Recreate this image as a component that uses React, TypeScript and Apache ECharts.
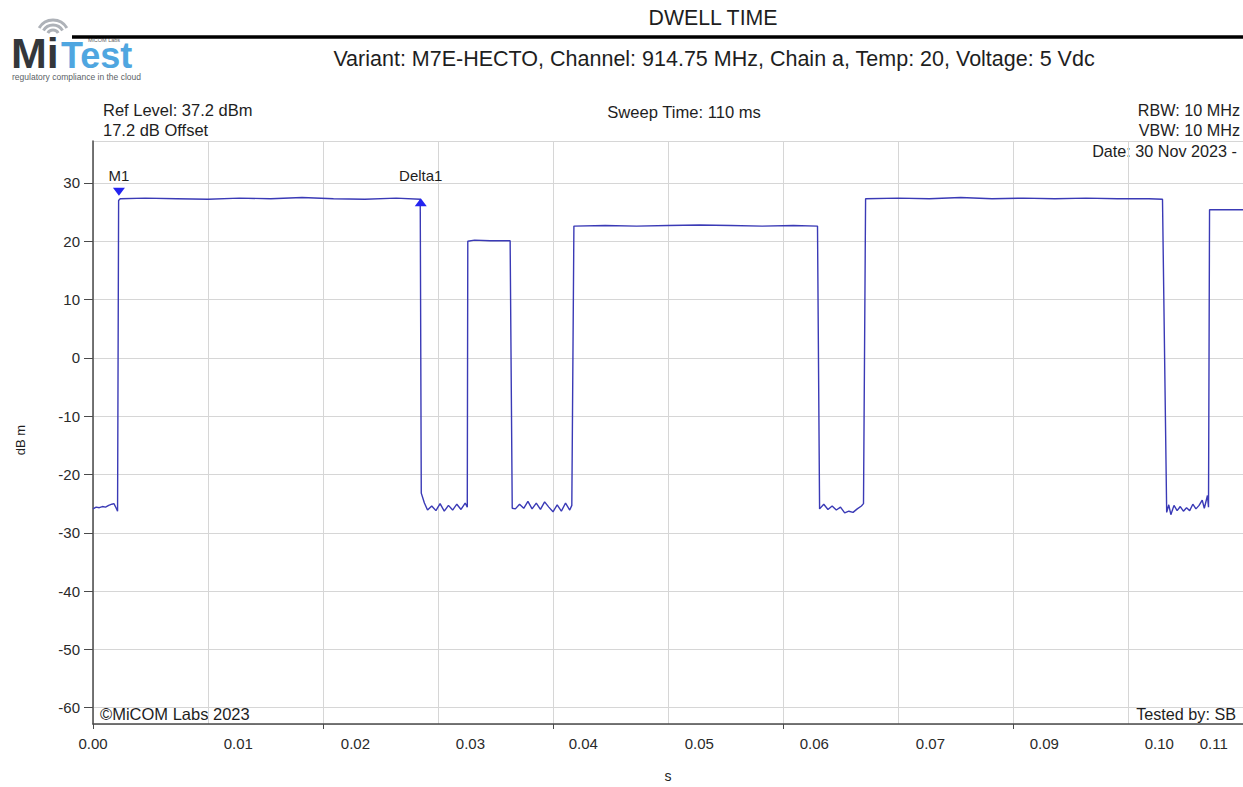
import React, { useEffect, useRef } from "react";
import * as echarts from "echarts";

// Sweep trace: time (s) and level (dBm), read along the captured zero-span sweep
const traceTime: number[] = [
  // off period
  0.0, 0.0003, 0.0006, 0.0009, 0.0012, 0.0015, 0.0018, 0.002, 0.0022, 0.00235,
  // burst 1
  0.00245, 0.0026, 0.005, 0.008, 0.011, 0.014, 0.017, 0.02, 0.023, 0.026, 0.029, 0.0313,
  // off period
  0.0314, 0.0317, 0.032, 0.0324, 0.0328, 0.0332, 0.0336, 0.034, 0.0344, 0.0348, 0.0352, 0.0356, 0.0358,
  // burst 2
  0.03585, 0.0365, 0.038, 0.0399,
  // off period
  0.0401, 0.0404, 0.0408, 0.0412, 0.0416, 0.042, 0.0424, 0.0428, 0.0432, 0.0436, 0.044, 0.0444, 0.0448,
  0.0452, 0.0456, 0.0458,
  // burst 3
  0.046, 0.049, 0.052, 0.055, 0.058, 0.061, 0.064, 0.067, 0.0693,
  // off period
  0.0695, 0.0699, 0.0703, 0.0707, 0.0711, 0.0715, 0.0719, 0.0723, 0.0727, 0.0731, 0.0735, 0.0737,
  // burst 4
  0.0739, 0.077, 0.08, 0.083, 0.086, 0.089, 0.092, 0.095, 0.098, 0.101, 0.1023,
  // off period
  0.1027, 0.1029, 0.1031, 0.1034, 0.1037, 0.104, 0.1043, 0.1046, 0.1049, 0.1052, 0.1055, 0.1058, 0.1061,
  0.1063, 0.1066, 0.1067,
  // burst 5
  0.1068, 0.108, 0.11,
];

const traceLevel: number[] = [
  -25.9, -25.6, -25.7, -25.5, -25.6, -25.3, -25.1, -25.0, -25.7, -26.3,
  27.0, 27.3, 27.4, 27.3, 27.2, 27.4, 27.3, 27.5, 27.3, 27.2, 27.4, 27.2,
  -23.2, -24.9, -26.1, -25.4, -26.2, -25.0, -26.3, -25.3, -26.1, -25.1, -26.0, -24.9, -25.6,
  20.0, 20.2, 20.1, 20.1,
  -25.8, -25.9, -25.1, -25.8, -24.6, -25.9, -24.9, -26.0, -24.7, -25.6, -26.4, -25.2, -26.3,
  -24.9, -26.1, -25.3,
  22.6, 22.7, 22.6, 22.7, 22.8, 22.7, 22.6, 22.7, 22.6,
  -25.9, -25.1, -26.0, -25.4, -26.1, -25.6, -26.6, -26.3, -26.5, -25.9, -25.4, -25.0,
  27.3, 27.4, 27.3, 27.5, 27.3, 27.4, 27.3, 27.4, 27.3, 27.3, 27.2,
  -26.5, -25.2, -26.9, -25.3, -26.2, -25.5, -26.3, -25.7, -26.2, -25.1, -25.9, -25.3, -24.4,
  -25.8, -23.6, -25.6,
  25.4, 25.4, 25.4,
];

// Markers: M1 at the start of the first burst, Delta1 at its end
const markerNames: string[] = ["M1", "Delta1"];
const markerTime: number[] = [0.00248, 0.03135];
const markerLevel: number[] = [27.3, 27.2];

// Axis scale (ref level 37.2 dBm, 10 dB/div, 110 ms sweep)
const refLevel = 37.2;
const dbSpan = 100;
const sweepTime = 0.11;
const yTickValues: number[] = [-60, -50, -40, -30, -20, -10, 0, 10, 20, 30];
const xMajorTicks: number[] = [0, 0.022, 0.044, 0.066, 0.088, 0.11];
const xLabelPos: number[] = [0, 0.0139, 0.0251, 0.0361, 0.0469, 0.058, 0.069, 0.0801, 0.091, 0.102, 0.1072];
const xLabelText: string[] = ["0.00", "0.01", "0.02", "0.03", "0.04", "0.05", "0.06", "0.07", "0.09", "0.10", "0.11"];

const FONT = "'Liberation Sans', Arial, sans-serif";
const TRACE = "#3a3ab6";
const MARK = "#2424f0";
const GRID = "#d6d6d6";
const AXIS = "#4a4a4a";
const INK = "#1e1e1e";

function txt(
  text: string,
  x: number,
  y: number,
  size: number,
  align = "left",
  color = INK,
  weight = "normal",
  lineHeight?: number
) {
  return {
    type: "text",
    x,
    y,
    silent: true,
    style: {
      text,
      fill: color,
      font: `${weight} ${size}px ${FONT}`,
      textAlign: align,
      textVerticalAlign: "middle",
      ...(lineHeight ? { lineHeight } : {}),
    },
  };
}

export default function App() {
  const ref = useRef<HTMLDivElement>(null);

  useEffect(() => {
    if (!ref.current) return;
    const chart = echarts.init(ref.current, null, { renderer: "svg" });

    const points = traceTime.map((t, i) => [t, traceLevel[i]]);

    const logoArcs = [6, 11, 16].map((r) => ({
      type: "arc",
      silent: true,
      shape: { cx: 53, cy: 36, r, startAngle: (-150 * Math.PI) / 180, endAngle: (-30 * Math.PI) / 180, clockwise: true },
      style: { stroke: "#aeb2b8", lineWidth: 3, fill: null },
    }));

    chart.setOption({
      animation: false,
      backgroundColor: "#ffffff",
      textStyle: { fontFamily: FONT },
      grid: { left: 93, top: 141, width: 1151, height: 583, containLabel: false },
      xAxis: [
        {
          type: "value",
          position: "bottom",
          min: 0,
          max: sweepTime,
          interval: 0.011,
          axisLine: { show: true, onZero: false, lineStyle: { color: AXIS, width: 1.5 } },
          axisTick: { show: false },
          axisLabel: { show: false },
          splitLine: { show: true, lineStyle: { color: GRID, width: 1 } },
        },
        {
          type: "value",
          position: "bottom",
          min: 0,
          max: sweepTime,
          axisLine: { show: false, onZero: false },
          axisTick: { show: true, customValues: xMajorTicks, length: 5, lineStyle: { color: AXIS } },
          axisLabel: {
            show: true,
            customValues: xLabelPos,
            margin: 12,
            fontSize: 15,
            color: "#2a2a2a",
            formatter: (v: number) => {
              const i = xLabelPos.findIndex((p) => Math.abs(p - v) < 1e-6);
              return i >= 0 ? xLabelText[i] : "";
            },
          },
          splitLine: { show: false },
        },
      ],
      yAxis: [
        {
          type: "value",
          position: "left",
          min: refLevel - dbSpan,
          max: refLevel,
          splitNumber: 10,
          minInterval: 10,
          maxInterval: 10,
          axisLine: { show: true, onZero: false, lineStyle: { color: AXIS, width: 1.5 } },
          axisTick: { show: false },
          axisLabel: { show: false },
          splitLine: { show: true, lineStyle: { color: GRID, width: 1 } },
        },
        {
          type: "value",
          position: "left",
          min: refLevel - dbSpan,
          max: refLevel,
          axisLine: { show: false, onZero: false },
          axisTick: { show: true, customValues: yTickValues, length: 9, lineStyle: { color: AXIS } },
          axisLabel: { show: true, customValues: yTickValues, margin: 13, fontSize: 15, color: "#2a2a2a" },
          splitLine: { show: false },
        },
      ],
      series: [
        {
          type: "line",
          xAxisIndex: 0,
          yAxisIndex: 0,
          data: points,
          showSymbol: false,
          symbol: "none",
          lineStyle: { color: TRACE, width: 1.4 },
          markPoint: {
            silent: true,
            data: [
              {
                name: markerNames[0],
                coord: [markerTime[0], markerLevel[0]],
                symbol: "path://M0,0 L12,0 L6,8 Z",
                symbolSize: [12, 8],
                symbolOffset: [0, -7],
                itemStyle: { color: MARK },
                label: { show: true, position: "top", distance: 5, formatter: markerNames[0], color: INK, fontSize: 15 },
              },
              {
                name: markerNames[1],
                coord: [markerTime[1], markerLevel[1]],
                symbol: "path://M6,0 L12,8 L0,8 Z",
                symbolSize: [12, 8],
                symbolOffset: [0, 3],
                itemStyle: { color: MARK },
                label: { show: true, position: "top", distance: 15, formatter: markerNames[1], color: INK, fontSize: 15 },
              },
            ],
          },
        },
      ],
      graphic: [
        // logo
        ...logoArcs,
        txt("Mi", 11, 53, 43, "left", "#34373b", "bold", 31),
        txt("Test", 61, 55, 36, "left", "#4fa6e0", "bold", 26),
        txt("MiCOM Labs", 88, 40, 5.5, "left", "#666", "normal", 5),
        txt("regulatory compliance in the cloud", 12, 77, 8.5, "left", "#5b5f66", "normal", 8),
        // header
        txt("DWELL TIME", 713, 18, 21.3, "center"),
        {
          type: "line",
          silent: true,
          shape: { x1: 72, y1: 37, x2: 1243, y2: 37 },
          style: { stroke: "#000", lineWidth: 3.5 },
        },
        txt("Variant: M7E-HECTO, Channel: 914.75 MHz, Chain a, Temp: 20, Voltage: 5 Vdc", 714, 59, 21.5, "center"),
        // instrument settings
        txt("Ref Level: 37.2 dBm", 103, 110, 16.5),
        txt("17.2 dB Offset", 103, 130, 16.5),
        txt("Sweep Time: 110 ms", 684, 112, 16.6, "center"),
        txt("RBW: 10 MHz", 1240, 110, 16.2, "right"),
        txt("VBW: 10 MHz", 1240, 130, 16.2, "right"),
        txt("Date: 30 Nov 2023 -", 1237, 151, 16.2, "right"),
        txt("\u00A9MiCOM Labs 2023", 100, 714, 16.5),
        txt("Tested by: SB", 1236, 714, 16.2, "right"),
        // axis names
        {
          type: "text",
          x: 20,
          y: 440,
          rotation: Math.PI / 2,
          silent: true,
          style: { text: "dB m", fill: INK, font: `13px ${FONT}`, textAlign: "center", textVerticalAlign: "middle" },
        },
        txt("s", 668, 776, 14, "center"),
      ],
    });

    return () => chart.dispose();
  }, []);

  return (
    <div
      ref={ref}
      style={{ position: "absolute", left: 0, top: 0, width: 1243, height: 787, background: "#fff" }}
    />
  );
}
